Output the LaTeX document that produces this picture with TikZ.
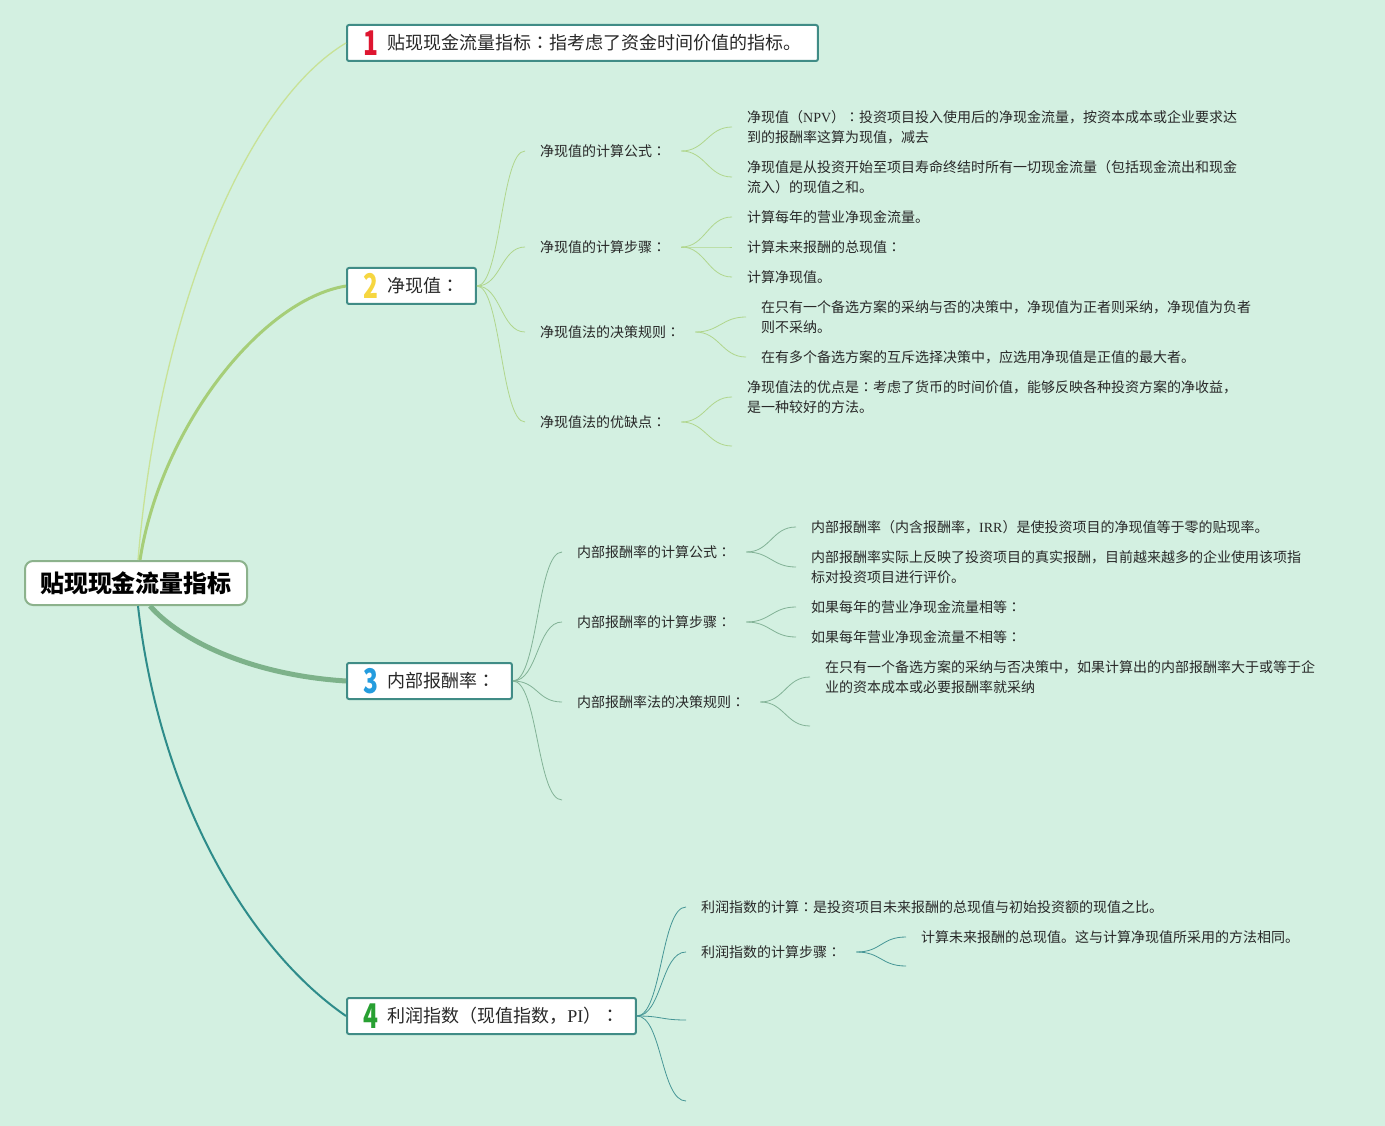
\documentclass[tikz,border=0pt]{standalone}
\usepackage{fontspec}
\usepackage{graphicx}
\setmainfont{Noto Sans CJK SC}
\newfontfamily\latinrm{Liberation Serif}
\newfontfamily\tcfont{Noto Sans CJK TC}
\definecolor{bgmint}{RGB}{211,240,225}
\definecolor{boxline}{RGB}{64,140,134}
\definecolor{rootline}{RGB}{140,178,140}
\definecolor{br1}{RGB}{200,226,150}
\definecolor{br2}{RGB}{166,206,120}
\definecolor{br3}{RGB}{125,178,138}
\definecolor{br4}{RGB}{46,140,138}
\definecolor{tw2}{RGB}{176,214,140}
\definecolor{tw3}{RGB}{130,178,150}
\definecolor{tw4}{RGB}{70,150,150}
\definecolor{numred}{RGB}{222,22,48}
\definecolor{numyel}{RGB}{246,214,64}
\definecolor{numblue}{RGB}{36,156,222}
\definecolor{numgreen}{RGB}{40,160,50}
\definecolor{txt}{RGB}{40,40,40}
\newcommand{\topicnum}[2]{\textcolor{#1}{\raisebox{-5.8pt}{\scalebox{0.72}[1]{\fontsize{34}{34}\selectfont\bfseries #2}}}\hspace{9pt}}
\newcommand{\fwcolon}{{\tcfont ：}}

\begin{document}
\begin{tikzpicture}[x=1pt,y=-1pt,
    rootbox/.style={draw=rootline,line width=2pt,fill=white,rounded corners=8pt,
      minimum height=44pt,inner xsep=15pt,inner ysep=0pt,font=\fontsize{24}{26}\selectfont\bfseries},
    topic/.style={draw=boxline,line width=2pt,fill=white,rounded corners=2pt,anchor=west,
      minimum height=36pt,inner xsep=16.5pt,inner ysep=0pt,text=txt,font=\fontsize{18}{20}\selectfont},
    leaf/.style={anchor=west,inner xsep=15pt,inner ysep=0pt,align=left,text=txt,
      font=\fontsize{14}{20}\selectfont},
    tw2/.style={draw=tw2,line width=0.8pt},
    tw3/.style={draw=tw3,line width=0.8pt},
    tw4/.style={draw=tw4,line width=0.8pt}]
\fill[bgmint] (0,0) rectangle (1385,1126);
\useasboundingbox (0,0) rectangle (1385,1126);

% main topics
\node[rootbox] (root) at (136,583) {贴现现金流量指标};
\node[topic] (t1) at (346,43) {\topicnum{numred}{1}贴现现金流量指标\fwcolon 指考虑了资金时间价值的指标。};
\node[topic] (t2) at (346,286) {\topicnum{numyel}{2}净现值\fwcolon};
\node[topic] (t3) at (346,681) {\topicnum{numblue}{3}内部报酬率\fwcolon};
\node[topic] (t4) at (346,1016) {\topicnum{numgreen}{4}利润指数（现值指数，{\latinrm PI}）\fwcolon};

\draw[br1,line width=1.3pt] ([xshift=2pt]root.north) .. controls (160,300) and (250,100) .. (t1.west);
\draw[br2,line width=3pt] ([xshift=4pt]root.north) .. controls (160,430) and (260,300) .. (t2.west);
\draw[br3,line width=5pt] ([xshift=14pt]root.south) .. controls (180,640) and (250,675) .. (t3.west);
\draw[br4,line width=2pt] ([xshift=2pt]root.south) .. controls (160,800) and (250,950) .. (t4.west);

% net present value
\node[leaf] (s21) at (525,151) {净现值的计算公式\fwcolon};
\node[leaf] (s22) at (525,247) {净现值的计算步骤\fwcolon};
\node[leaf] (s23) at (525,332) {净现值法的决策规则\fwcolon};
\node[leaf] (s24) at (525,422) {净现值法的优缺点\fwcolon};
\node[leaf] (a1) at (732,127) {净现值（{\latinrm NPV}）\fwcolon 投资项目投入使用后的净现金流量，按资本成本或企业要求达\\到的报酬率这算为现值，减去};
\node[leaf] (a2) at (732,177) {净现值是从投资开始至项目寿命终结时所有一切现金流量（包括现金流出和现金\\流入）的现值之和。};
\node[leaf] (b1) at (732,217) {计算每年的营业净现金流量。};
\node[leaf] (b2) at (732,247) {计算未来报酬的总现值\fwcolon};
\node[leaf] (b3) at (732,277) {计算净现值。};
\node[leaf] (c1) at (746,317) {在只有一个备选方案的采纳与否的决策中，净现值为正者则采纳，净现值为负者\\则不采纳。};
\node[leaf] (c2) at (746,357) {在有多个备选方案的互斥选择决策中，应选用净现值是正值的最大者。};
\node[leaf] (d1) at (732,397) {净现值法的优点是\fwcolon 考虑了货币的时间价值，能够反映各种投资方案的净收益，\\是一种较好的方法。};
\coordinate (d2) at (732,446);

\foreach \k in {s21,s22,s23,s24}
  \draw[tw2] (t2.east) .. controls +(24,0) and +(-24,0) .. (\k.west);
\foreach \k in {a1,a2}
  \draw[tw2] (s21.east) .. controls +(24,0) and +(-24,0) .. (\k.west);
\foreach \k in {b1,b2,b3}
  \draw[tw2] (s22.east) .. controls +(24,0) and +(-24,0) .. (\k.west);
\foreach \k in {c1,c2}
  \draw[tw2] (s23.east) .. controls +(24,0) and +(-24,0) .. (\k.west);
\draw[tw2] (s24.east) .. controls +(24,0) and +(-24,0) .. (d1.west);
\draw[tw2] (s24.east) .. controls +(24,0) and +(-24,0) .. (d2);

% internal rate of return
\node[leaf] (s31) at (562,552) {内部报酬率的计算公式\fwcolon};
\node[leaf] (s32) at (562,622) {内部报酬率的计算步骤\fwcolon};
\node[leaf] (s33) at (562,702) {内部报酬率法的决策规则\fwcolon};
\coordinate (s34) at (562,800);
\node[leaf] (e1) at (796,527) {内部报酬率（内含报酬率，{\latinrm IRR}）是使投资项目的净现值等于零的贴现率。};
\node[leaf] (e2) at (796,567) {内部报酬率实际上反映了投资项目的真实报酬，目前越来越多的企业使用该项指\\标对投资项目进行评价。};
\node[leaf] (f1) at (796,607) {如果每年的营业净现金流量相等\fwcolon};
\node[leaf] (f2) at (796,637) {如果每年营业净现金流量不相等\fwcolon};
\node[leaf] (g1) at (810,677) {在只有一个备选方案的采纳与否决策中，如果计算出的内部报酬率大于或等于企\\业的资本成本或必要报酬率就采纳};
\coordinate (g2) at (810,726);

\foreach \k in {s31,s32,s33}
  \draw[tw3] (t3.east) .. controls +(25,0) and +(-25,0) .. (\k.west);
\draw[tw3] (t3.east) .. controls +(25,0) and +(-25,0) .. (s34);
\foreach \k in {e1,e2}
  \draw[tw3] (s31.east) .. controls +(24,0) and +(-24,0) .. (\k.west);
\foreach \k in {f1,f2}
  \draw[tw3] (s32.east) .. controls +(24,0) and +(-24,0) .. (\k.west);
\draw[tw3] (s33.east) .. controls +(24,0) and +(-24,0) .. (g1.west);
\draw[tw3] (s33.east) .. controls +(24,0) and +(-24,0) .. (g2);

% profitability index
\node[leaf] (s41) at (686,907) {利润指数的计算\fwcolon 是投资项目未来报酬的总现值与初始投资额的现值之比。};
\node[leaf] (s42) at (686,952) {利润指数的计算步骤\fwcolon};
\coordinate (s43) at (686,1020);
\coordinate (s44) at (686,1101);
\node[leaf] (h1) at (906,937) {计算未来报酬的总现值。这与计算净现值所采用的方法相同。};
\coordinate (h2) at (906,966);

\foreach \k in {s41,s42}
  \draw[tw4] (t4.east) .. controls +(25,0) and +(-25,0) .. (\k.west);
\foreach \k in {s43,s44}
  \draw[tw4] (t4.east) .. controls +(25,0) and +(-25,0) .. (\k);
\draw[tw4] (s42.east) .. controls +(25,0) and +(-25,0) .. (h1.west);
\draw[tw4] (s42.east) .. controls +(25,0) and +(-25,0) .. (h2);
\end{tikzpicture}
\end{document}
